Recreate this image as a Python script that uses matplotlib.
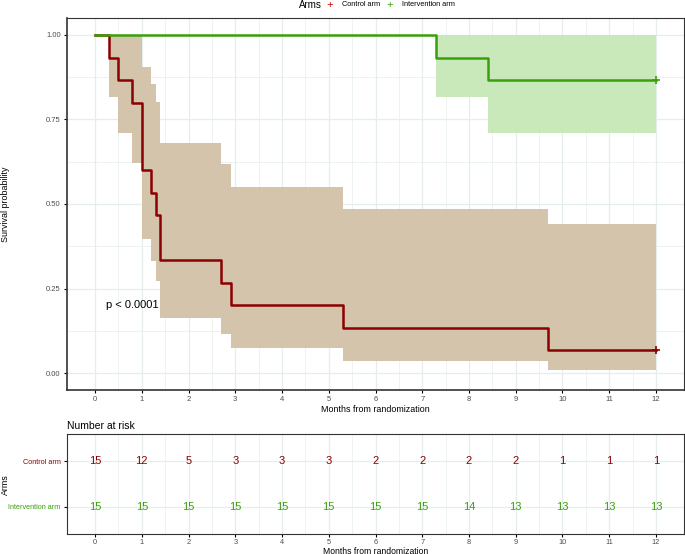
import matplotlib
matplotlib.use("Agg")
import matplotlib.pyplot as plt
import numpy as np

plt.rcParams['font.family'] = ['Liberation Sans', 'DejaVu Sans']

# ---- data ----
arms = ["Control arm", "Intervention arm"]
ctrl_time = [0, 0.3, 0.5, 0.8, 1.0, 1.2, 1.3, 1.4, 2.7, 2.9, 5.3, 9.7, 12.0]
ctrl_surv = [1.0, 0.933, 0.867, 0.800, 0.600, 0.533, 0.467, 0.333, 0.267, 0.200, 0.133, 0.067, 0.067]
ctrl_low = [1.0, 0.815, 0.710, 0.622, 0.397, 0.332, 0.273, 0.163, 0.115, 0.073, 0.036, 0.010, 0.010]
ctrl_up = [1.0, 1.0, 1.0, 1.0, 0.905, 0.855, 0.802, 0.681, 0.618, 0.550, 0.485, 0.442, 0.442]

int_time = [0, 7.3, 8.4, 12.0]
int_surv = [1.0, 0.933, 0.867, 0.867]
int_low = [1.0, 0.815, 0.710, 0.710]
int_up = [1.0, 1.0, 1.0, 1.0]

risk_times = list(range(0, 13))
risk_ctrl = [15, 12, 5, 3, 3, 3, 2, 2, 2, 2, 1, 1, 1]
risk_int = [15, 15, 15, 15, 15, 15, 15, 15, 14, 13, 13, 13, 13]

pval_text = "p < 0.0001"

# ---- styles ----
col_ctrl = "#8B0000"
col_int = "#38A10A"
fill_ctrl = "#D3C1A8"
fill_int = "#C6E8B8"
leg_ctrl = "#CC0000"
grid_col = "#E6EDED"
tick_col = "#4D4D4D"

fig = plt.figure(figsize=(6.85, 5.54), dpi=100)

ax = fig.add_axes([67/685, (554-390)/554, (684-67)/685, (390-18)/554])
ax.set_xlim(-0.6, 12.6)
ax.set_ylim(-0.05, 1.05)

# grid
for x in np.arange(0, 12.01, 0.5):
    ax.axvline(x, color=grid_col, lw=0.5 if x % 1 else 0.9, zorder=0)
for y in np.arange(0, 1.001, 0.125):
    ax.axhline(y, color=grid_col, lw=0.5 if (y * 4) % 1 else 0.9, zorder=0)

ax.fill_between(ctrl_time, ctrl_low, ctrl_up, step='post', color=fill_ctrl, lw=0, alpha=0.95, zorder=1)
ax.fill_between(int_time, int_low, int_up, step='post', color=fill_int, lw=0, alpha=0.95, zorder=1)
ax.step(ctrl_time, ctrl_surv, where='post', color=col_ctrl, lw=1.8, zorder=3)
ax.step(int_time, int_surv, where='post', color=col_int, lw=1.8, zorder=3)
ax.plot([ctrl_time[-1]], [ctrl_surv[-1]], marker='+', color=col_ctrl, ms=6, mew=1.2, zorder=4)
ax.plot([int_time[-1]], [int_surv[-1]], marker='+', color=col_int, ms=6, mew=1.2, zorder=4)

ax.text(0.8, 0.2, pval_text, ha='center', va='center', fontsize=8, color='black')

ax.set_xticks(risk_times)
ax.set_yticks([0, 0.25, 0.5, 0.75, 1.0])
ax.set_yticklabels(["0.00", "0.25", "0.50", "0.75", "1.00"])
ax.tick_params(labelsize=5.5, labelcolor=tick_col, length=2.5, width=0.8, pad=2, color='black')
ax.set_xlabel("Months from randomization", fontsize=6.4, labelpad=1)
ax.set_ylabel("Survival probability", fontsize=6.4)
ax.yaxis.set_label_coords(-0.092, 0.5)
for s in ax.spines.values():
    s.set_linewidth(0.8)
    s.set_color('#333333')
ax.spines['left'].set_linewidth(1.2)
ax.spines['bottom'].set_linewidth(1.2)

# legend at top
ly = 1 - 5/554
fig.text(299/685, ly, "Arms", fontsize=7, ha='left', va='center')
fig.text(330/685, ly, "+", fontsize=8, ha='center', va='center', color=leg_ctrl)
fig.text(342/685, ly, arms[0], fontsize=5.3, ha='left', va='center')
fig.text(390/685, ly, "+", fontsize=8, ha='center', va='center', color=col_int)
fig.text(402/685, ly, arms[1], fontsize=5.3, ha='left', va='center')

# risk table
ax2 = fig.add_axes([67/685, (554-534)/554, (684-67)/685, (534-434.3)/554])
ax2.set_xlim(-0.6, 12.6)
ax2.set_ylim(0.4, 2.6)
for x in np.arange(0, 12.01, 0.5):
    ax2.axvline(x, color=grid_col, lw=0.5 if x % 1 else 0.9, zorder=0)
for y in [1, 2]:
    ax2.axhline(y, color=grid_col, lw=0.9, zorder=0)
for t, n in zip(risk_times, risk_ctrl):
    ax2.text(t, 2, str(n), ha='center', va='center', fontsize=8, color=col_ctrl)
for t, n in zip(risk_times, risk_int):
    ax2.text(t, 1, str(n), ha='center', va='center', fontsize=8, color=col_int)
ax2.set_xticks(risk_times)
ax2.set_yticks([2, 1])
ax2.set_yticklabels(arms)
ax2.get_yticklabels()[0].set_color(col_ctrl)
ax2.get_yticklabels()[1].set_color(col_int)
ax2.tick_params(labelsize=5.2, length=2.5, width=0.8, pad=2, color='black')
ax2.tick_params(axis='x', labelcolor=tick_col, labelsize=5.3, pad=1.2)
ax2.set_xlabel("Months from randomization", fontsize=6.2)
ax2.xaxis.set_label_coords(0.5, -(546.5 - 534) / 99.7)
ax2.set_ylabel("Arms", fontsize=6.4)
ax2.yaxis.set_label_coords(-0.092, 0.5)
ax2.set_title("Number at risk", fontsize=7.5, loc='left', x=0.0, pad=4)
for s in ax2.spines.values():
    s.set_linewidth(0.8)
    s.set_color('#333333')

fig.savefig("out.png", dpi=100)
